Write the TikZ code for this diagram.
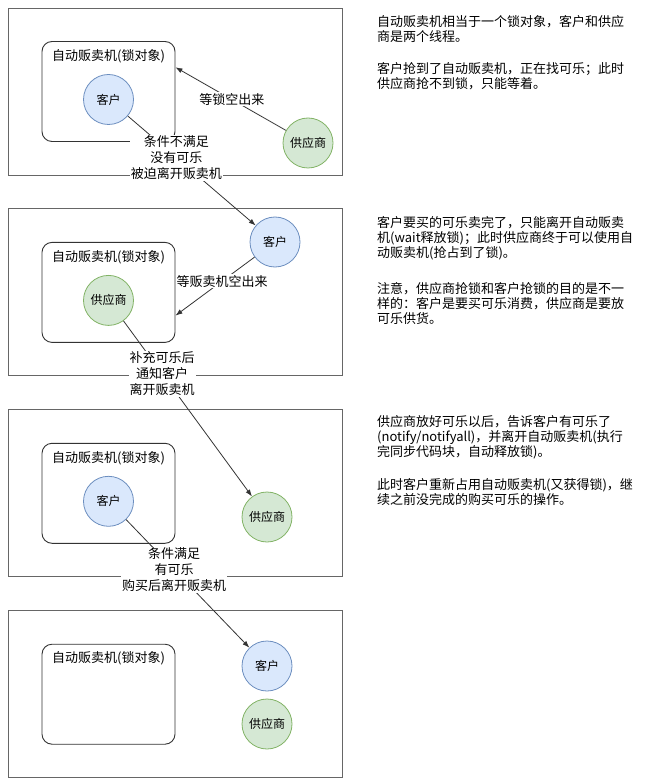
\documentclass[tikz,border=0pt]{standalone}
\usepackage{fontspec}
\setmainfont{Noto Sans CJK SC}
\usetikzlibrary{positioning,arrows.meta,calc}
\definecolor{kehufill}{HTML}{DAE8FC}
\definecolor{kehuline}{HTML}{6C8EBF}
\definecolor{gongfill}{HTML}{D5E8D4}
\definecolor{gongline}{HTML}{82B366}
\definecolor{framegray}{HTML}{666666}
\definecolor{edgegray}{HTML}{333333}
\tikzset{
  panel/.style={draw=framegray,line width=0.9pt,minimum width=334pt,
            minimum height=167pt,inner sep=0pt},
  lockbox/.style={draw=edgegray,line width=0.9pt,rounded corners=10pt,
            minimum width=133pt,minimum height=100pt,inner sep=0pt,
            label={[anchor=north,inner sep=0pt,yshift=-8pt]north:自动贩卖机(锁对象)}},
  party/.style={circle,line width=0.8pt,minimum size=50pt,inner sep=0pt,
            font=\fontsize{12}{14}\selectfont},
  kehu/.style={party,draw=kehuline,fill=kehufill},
  gongying/.style={party,draw=gongline,fill=gongfill},
  flow/.style={-{Latex[length=7pt,width=5pt]},line width=0.8pt,draw=edgegray},
  tag/.style={fill=white,inner sep=1pt,align=center},
  note/.style={anchor=north west,align=left,inner sep=0pt,
            font=\fontsize{13}{15}\selectfont},
}
\begin{document}
\begin{tikzpicture}[x=1pt,y=-1pt,node distance=33pt,
    every node/.style={font=\fontsize{13}{16}\selectfont}]
  \useasboundingbox (0,0) rectangle (650,783);
  \node[panel]               (f1) at (175,91.5) {};
  \node[panel,below=of f1]   (f2) {};
  \node[panel,below=of f2]   (f3) {};
  \node[panel,below=of f3]   (f4) {};
  \node[lockbox,right=34pt of f1.west] (box1) {};
  \node[lockbox,right=34pt of f2.west] (box2) {};
  \node[lockbox,right=34pt of f3.west] (box3) {};
  \node[lockbox,right=34pt of f4.west] (box4) {};

  \node[kehu]     (kehu1) at ([yshift=-8pt]box1.center) {客户};
  \node[gongying] (gong1) at (308,143) {供应商};
  \node[gongying] (gong2) at ([yshift=-8pt]box2.center) {供应商};
  \node[kehu]     (kehu2) at (275,242) {客户};
  \node[kehu]     (kehu3) at ([yshift=-8pt]box3.center) {客户};
  \node[gongying] (gong3) at (267,517) {供应商};
  \node[kehu]     (kehu4) at (267,666) {客户};
  \node[gongying] (gong4) at (267,724) {供应商};

  \coordinate (in1) at ($(box1.north east)!0.26!(box1.south east)$);
  \coordinate (in2) at ($(box2.north east)!0.73!(box2.south east)$);
  \draw[flow] (gong1) -- node[tag,pos=0.49] {等锁空出来} (in1);
  \draw[flow] (kehu1) -- node[tag,pos=0.38] {条件不满足\\没有可乐\\被迫离开贩卖机} (kehu2);
  \draw[flow] (kehu2) -- node[tag,pos=0.41] {等贩卖机空出来} (in2);
  \draw[flow] (gong2) -- node[tag,pos=0.30] {补充可乐后\\通知客户\\离开贩卖机} (gong3);
  \draw[flow] (kehu3) -- node[tag,pos=0.39] {条件满足\\有可乐\\购买后离开贩卖机} (kehu4);

  \node[note] (n1) at (377,15) {自动贩卖机相当于一个锁对象，客户和供应\\
    商是两个线程。\\[17pt]
    客户抢到了自动贩卖机，正在找可乐；此时\\
    供应商抢不到锁，只能等着。};
  \node[note] (n2) at (377,216) {客户要买的可乐卖完了，只能离开自动贩卖\\
    机(wait释放锁)；此时供应商终于可以使用自\\
    动贩卖机(抢占到了锁)。\\[21pt]
    注意，供应商抢锁和客户抢锁的目的是不一\\
    样的：客户是要买可乐消费，供应商是要放\\
    可乐供货。};
  \node[note] (n3) at (377,415) {供应商放好可乐以后，告诉客户有可乐了\\
    (notify/notifyall)，并离开自动贩卖机(执行\\
    完同步代码块，自动释放锁)。\\[18pt]
    此时客户重新占用自动贩卖机(又获得锁)，继\\
    续之前没完成的购买可乐的操作。};
\end{tikzpicture}
\end{document}
